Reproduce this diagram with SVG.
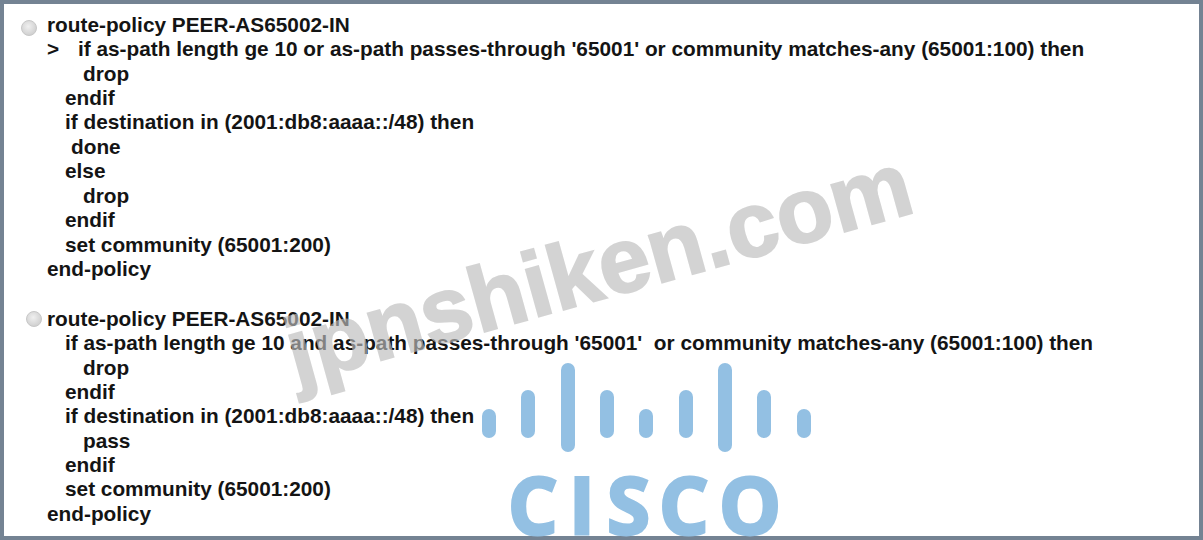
<svg xmlns="http://www.w3.org/2000/svg" width="1203" height="540" viewBox="0 0 1203 540">
<defs>
<radialGradient id="radio" cx="45%" cy="40%" r="65%"><stop offset="0" stop-color="#f0f0f0"/><stop offset="1" stop-color="#cccccc"/></radialGradient>
</defs>
<style>
.t{font-family:"Liberation Sans",Arial,sans-serif;font-weight:700;font-size:20.8px;fill:#141414;white-space:pre}
.r{fill:url(#radio);stroke:#c8c8c8;stroke-width:1}
.b{fill:#93c0e3}
.wm{font-family:"Liberation Sans",Arial,sans-serif;font-weight:700;font-size:92px;fill:#bdbdbd;stroke:#bdbdbd;stroke-width:2;opacity:.65}
.logo{font-family:"Open Sans","Liberation Sans",sans-serif;font-weight:700;font-size:78px;fill:#93c0e3;stroke:#93c0e3;stroke-width:3}
</style>
<rect width="1203" height="540" fill="#748393"/>
<rect x="4" y="4" width="1195" height="532" fill="#fff"/>
<g id="policy-1">
<circle class="r" cx="29" cy="28" r="7.5"/>
<text class="t" x="47" y="32">route-policy PEER-AS65002-IN</text>
<text class="t" x="47" y="56">&gt;</text>
<text class="t" x="78" y="56">if as-path length ge 10 or as-path passes-through '65001' or community matches-any (65001:100) then</text>
<text class="t" x="83" y="81">drop</text>
<text class="t" x="65" y="105">endif</text>
<text class="t" x="65" y="129">if destination in (2001:db8:aaaa::/48) then</text>
<text class="t" x="71" y="154">done</text>
<text class="t" x="65" y="178">else</text>
<text class="t" x="83" y="203">drop</text>
<text class="t" x="65" y="227">endif</text>
<text class="t" x="65" y="252">set community (65001:200)</text>
<text class="t" x="47" y="276">end-policy</text>
</g>
<g id="policy-2">
<circle class="r" cx="34" cy="319" r="7.5"/>
<text class="t" x="47" y="326">route-policy PEER-AS65002-IN</text>
<text class="t" x="65" y="350">if as-path length ge 10 and as-path passes-through '65001'  or community matches-any (65001:100) then</text>
<text class="t" x="83" y="375">drop</text>
<text class="t" x="65" y="399">endif</text>
<text class="t" x="65" y="423">if destination in (2001:db8:aaaa::/48) then</text>
<text class="t" x="83" y="448">pass</text>
<text class="t" x="65" y="472">endif</text>
<text class="t" x="65" y="496">set community (65001:200)</text>
<text class="t" x="47" y="521">end-policy</text>
</g>
<g id="cisco-logo">
<rect class="b" x="482" y="409" width="14" height="29" rx="7"/>
<rect class="b" x="521" y="390" width="14" height="48" rx="7"/>
<rect class="b" x="561" y="363" width="14" height="89" rx="7"/>
<rect class="b" x="600" y="390" width="14" height="48" rx="7"/>
<rect class="b" x="639" y="409" width="14" height="29" rx="7"/>
<rect class="b" x="679" y="390" width="14" height="48" rx="7"/>
<rect class="b" x="718" y="363" width="14" height="89" rx="7"/>
<rect class="b" x="757" y="390" width="14" height="48" rx="7"/>
<rect class="b" x="797" y="409" width="14" height="29" rx="7"/>
<text class="logo" x="508 569 607 659 719" y="533.5">CISCO</text>
</g>
<g id="watermark">
<text class="wm" transform="translate(296 384) rotate(-15.5)" textLength="645" lengthAdjust="spacingAndGlyphs">jpnshiken.com</text>
</g>
</svg>
